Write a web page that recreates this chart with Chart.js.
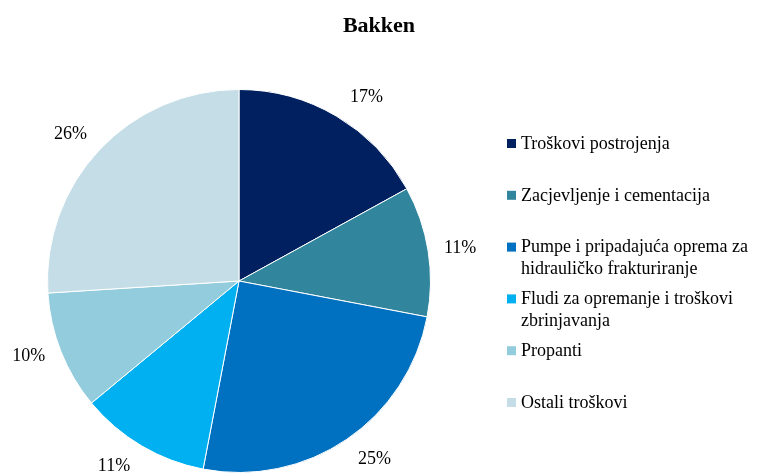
<!DOCTYPE html>
<html>
<head>
<meta charset="utf-8">
<script src="https://cdn.jsdelivr.net/npm/chart.js@4"></script>
<style>
  html, body { margin: 0; padding: 0; background: #fff; }
  #wrap { width: 758px; height: 473px; }
</style>
</head>
<body>
<div id="wrap"><canvas id="canvas"></canvas></div>
<script>
const title = "Bakken";
const labels = [
  ["Troškovi postrojenja"],
  ["Zacjevljenje i cementacija"],
  ["Pumpe i pripadajuća oprema za", "hidrauličko frakturiranje"],
  ["Fludi za opremanje i troškovi", "zbrinjavanja"],
  ["Propanti"],
  ["Ostali troškovi"],
];
const shares = [17, 11, 25, 11, 10, 26];
const colors = ["#002060", "#31859C", "#0070C0", "#00B0F0", "#93CDDD", "#C4DDE6"];

const font = "'Liberation Serif', 'Times New Roman', serif";

// small angular nudges (degrees) for the outside percent labels, like Excel's placement
const labelNudge = [4.2, 0.6, -3.1, 3.4, 1.8, -2.1];

const ctx = document.getElementById("canvas").getContext("2d");

const extras = {
  id: "extras",
  afterDatasetsDraw(chart) {
    const c = chart.ctx;
    const arcs = chart.getDatasetMeta(0).data;
    c.save();
    c.fillStyle = "#000";

    // title over the whole canvas
    c.font = "bold 22px " + font;
    c.textAlign = "center";
    c.textBaseline = "alphabetic";
    c.fillText(title, chart.width / 2, 32);

    // percent labels
    c.font = "18px " + font;
    c.textBaseline = "middle";
    arcs.forEach((arc, i) => {
      const mid = (arc.startAngle + arc.endAngle) / 2 + labelNudge[i] * Math.PI / 180;
      const r = arc.outerRadius + 32;
      c.fillText(shares[i] + "%", arc.x + Math.cos(mid) * r, arc.y + Math.sin(mid) * r);
    });

    // legend
    const lx = 507, top = 143, step = 51.8, lineH = 21.5;
    c.textAlign = "left";
    c.font = "18px " + font;
    labels.forEach((lines, i) => {
      const y = top + i * step;
      c.fillStyle = colors[i];
      c.fillRect(lx, y - 4, 9, 9);
      c.fillStyle = "#000";
      lines.forEach((t, j) => c.fillText(t, lx + 14, y + 1 + j * lineH));
    });
    c.restore();
  },
};

new Chart(ctx, {
  type: "pie",
  data: {
    labels: labels,
    datasets: [
      {
        data: shares,
        backgroundColor: colors,
        borderColor: "#fff",
        borderWidth: 1,
      },
    ],
  },
  options: {
    responsive: true,
    maintainAspectRatio: false,
    animation: false,
    layout: {
      padding: { left: 47, right: 327, top: 89, bottom: 0 },
    },
    plugins: {
      legend: { display: false },
      tooltip: { enabled: false },
      title: { display: false },
    },
  },
  plugins: [extras],
});
</script>
</body>
</html>
